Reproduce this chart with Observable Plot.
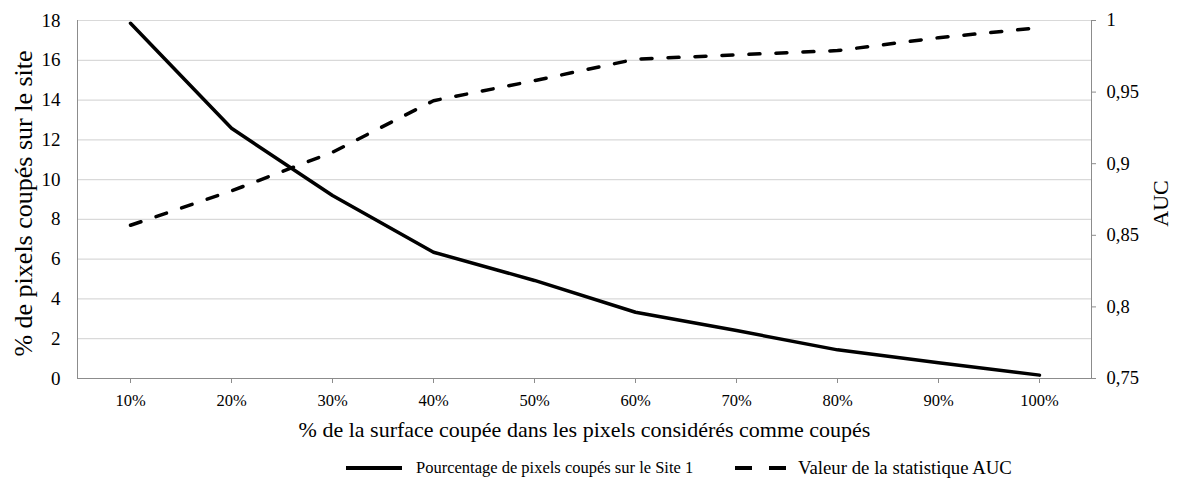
<!DOCTYPE html>
<html>
<head>
<meta charset="utf-8">
<script src="https://cdn.jsdelivr.net/npm/d3@7"></script>
<script src="https://cdn.jsdelivr.net/npm/@observablehq/plot@0.6"></script>
<style>
  body { margin: 0; background: #fff; }
  #chart { width: 1178px; }
  #legend { position: relative; width: 1178px; height: 34px; font-family: "Liberation Serif", serif; color: #000; }
  .item { position: absolute; top: 1px; height: 34px; display: flex; align-items: center; }
  .item svg { display: block; }
</style>
</head>
<body>
<div id="chart"></div>
<div id="legend">
  <div class="item" style="left:346px;">
    <svg width="56" height="10" style="margin-right:14px;"><line x1="0" y1="5" x2="56" y2="5" stroke="#000" stroke-width="4"></line></svg>
    <span style="font-size:16.5px;">Pourcentage de pixels coupés sur le Site 1</span>
  </div>
  <div class="item" style="left:735px;">
    <svg width="51" height="10" style="margin-right:12px;"><line x1="0" y1="5" x2="51" y2="5" stroke="#000" stroke-width="4" stroke-dasharray="17,17"></line></svg>
    <span style="font-size:18.8px;">Valeur de la statistique AUC</span>
  </div>
</div>
<script>
const categories = ["10%", "20%", "30%", "40%", "50%", "60%", "70%", "80%", "90%", "100%"];
const pixelsCut = [17.86, 12.58, 9.2, 6.35, 4.93, 3.33, 2.41, 1.44, 0.79, 0.17];
const aucValues = [0.857, 0.881, 0.908, 0.944, 0.958, 0.973, 0.976, 0.979, 0.988, 0.995];
const leftTicks = [0, 2, 4, 6, 8, 10, 12, 14, 16, 18];
const rightTicks = [0.75, 0.8, 0.85, 0.9, 0.95, 1];

const leftMax = 18, aucMin = 0.75, aucMax = 1;
const aucToLeft = v => (v - aucMin) / (aucMax - aucMin) * leftMax;
const fmtAuc = v => String(v).replace(".", ",");

const rows = categories.map((c, i) => ({cat: c, pix: pixelsCut[i], auc: aucToLeft(aucValues[i])}));

const gray = "#8c8c8c";
const font = "'Liberation Serif', serif";
const chart = Plot.plot({
  width: 1178,
  height: 450,
  marginLeft: 77,
  marginRight: 87,
  marginTop: 20,
  marginBottom: 72,
  style: {fontFamily: font, fontSize: "17px", color: "#000", background: "#fff"},
  x: {type: "point", domain: categories, padding: 0.5},
  y: {domain: [0, leftMax]},
  marks: [
    Plot.ruleY(leftTicks.slice(1), {stroke: "#d9d9d9", strokeWidth: 1.2}),
    Plot.frame({anchor: "left", stroke: gray}),
    Plot.frame({anchor: "right", stroke: gray}),
    Plot.ruleY([0], {stroke: gray, strokeWidth: 1.2}),
    Plot.axisX({tickSize: 5, stroke: gray, tickFormat: () => "", label: null}),
    Plot.axisY(rightTicks.map(aucToLeft), {anchor: "right", tickSize: 4, stroke: gray, tickFormat: () => "", label: null}),
    // tick labels
    Plot.text(categories, {x: d => d, text: d => d, frameAnchor: "bottom", dy: 27, fontSize: 16.5, fill: "#000", fontFamily: font}),
    Plot.text(leftTicks, {y: d => d, text: d => String(d), frameAnchor: "left", textAnchor: "end", dx: -17, fontSize: 19, fill: "#000", fontFamily: font}),
    Plot.text(rightTicks, {y: d => aucToLeft(d), text: fmtAuc, frameAnchor: "right", textAnchor: "start", dx: 15, fontSize: 18.5, fill: "#000", fontFamily: font}),
    // series
    Plot.line(rows, {x: "cat", y: "auc", stroke: "#000", strokeWidth: 3.5, strokeDasharray: "11,16", strokeLinecap: "round"}),
    Plot.line(rows, {x: "cat", y: "pix", stroke: "#000", strokeWidth: 3.5, strokeLinejoin: "round"}),
    // axis titles
    Plot.text(["% de pixels coupés sur le site"], {text: d => d, frameAnchor: "left", textAnchor: "middle", dx: -54, dy: 4, rotate: -90, fontSize: 26, fill: "#000", fontFamily: font}),
    Plot.text(["AUC"], {text: d => d, frameAnchor: "right", textAnchor: "middle", dx: 69, dy: 4, rotate: -90, fontSize: 22, fill: "#000", fontFamily: font}),
    Plot.text(["% de la surface coupée dans les pixels considérés comme coupés"], {text: d => d, frameAnchor: "bottom", textAnchor: "middle", dy: 58, fontSize: 22, fill: "#000", fontFamily: font})
  ]
});
document.getElementById("chart").appendChild(chart);
</script>
</body>
</html>
